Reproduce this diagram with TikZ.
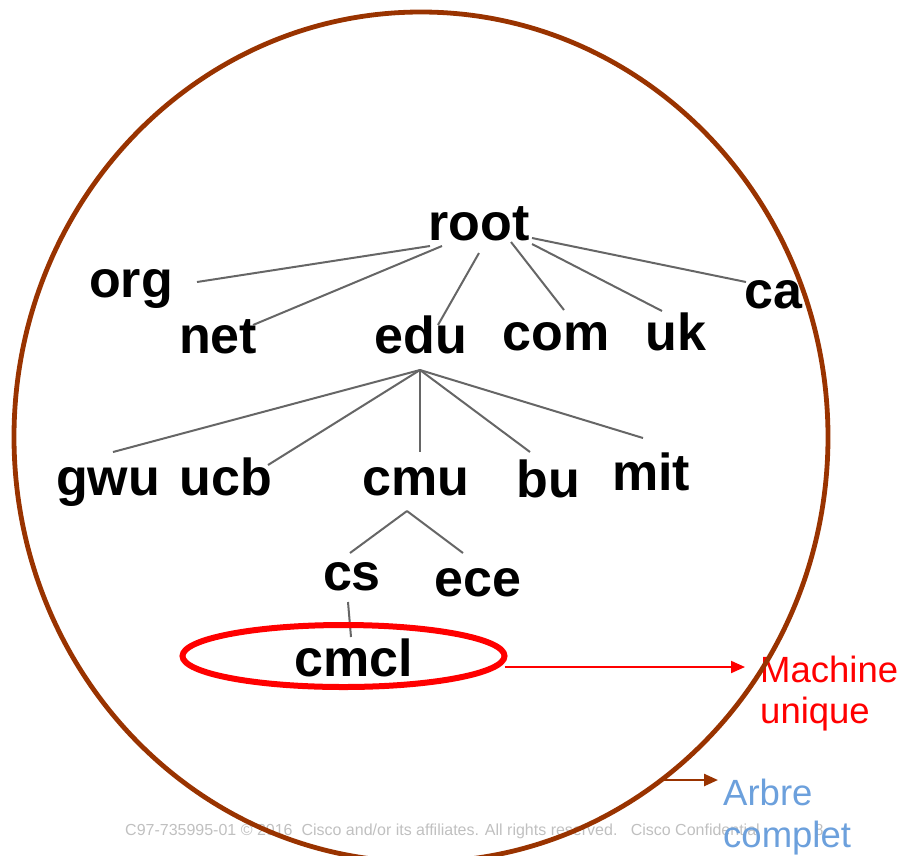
\documentclass[tikz,border=0pt]{standalone}
\usepackage{fontspec}
\setmainfont{Liberation Sans}
\usetikzlibrary{arrows.meta,calc,shapes.geometric}
\definecolor{treebrown}{RGB}{153,51,0}
\definecolor{linkgray}{RGB}{102,102,102}
\definecolor{softblue}{RGB}{108,160,220}
\definecolor{footgray}{RGB}{192,192,192}
\begin{document}
\begin{tikzpicture}[x=1pt,y=-1pt,
  dom/.style={font=\fontsize{52}{60}\selectfont\bfseries, inner sep=0pt, anchor=base},
  link/.style={draw=linkgray, line width=2pt},
  note/.style={font=\fontsize{36.5}{40}\selectfont, inner sep=0pt, anchor=base west},
  foot/.style={font=\fontsize{16}{19}\selectfont, text=footgray, inner sep=0pt, anchor=base west}]
\useasboundingbox (0,0) rectangle (902,855);
% footer
\node[foot] (footer) at (125,835) {C97-735995-01 \textcopyright\ 2016\ \ Cisco and/or its affiliates. All rights reserved.\ \ \ Cisco Confidential};
\node[foot, anchor=base] (pagenum) at (819,835) {8};
% domain names
\node[dom] (root) at (479,240) {root};
\node[dom] (org)  at (131,297) {org};
\node[dom] (net)  at (218,353) {net};
\node[dom] (edu)  at (421,353) {edu};
\node[dom] (com)  at (556,350) {com};
\node[dom] (uk)   at (676,350) {uk};
\node[dom] (ca)   at (773,308) {ca};
\node[dom] (gwu)  at (108,495) {gwu};
\node[dom] (ucb)  at (226,495) {ucb};
\node[dom] (cmu)  at (416,495) {cmu};
\node[dom] (bu)   at (548,497) {bu};
\node[dom] (mit)  at (651,490) {mit};
\node[dom] (cs)   at (352,590) {cs};
\node[dom] (ece)  at (478,596) {ece};
\node[dom] (cmcl) at (354,676) {cmcl};
% links from root
\draw[link] ($(root.base)+(-49,6)$) -- ($(org.base)+(66,-15)$);
\draw[link] ($(root.base)+(-37,6)$) -- ($(net.base)+(35,-28)$);
\draw[link] ($(root.base)+(0,13)$) -- ($(edu.base)+(17,-28)$);
\draw[link] ($(root.base)+(32,2)$) -- ($(com.base)+(8,-40)$);
\draw[link] ($(root.base)+(53,4)$) -- ($(uk.base)+(-14,-39)$);
\draw[link] ($(root.base)+(53,-2)$) -- ($(ca.base)+(-27,-26)$);
% links from edu
\coordinate (eduapex) at ($(edu.base)+(-1,17)$);
\draw[link] (eduapex) -- ($(gwu.base)+(5,-43)$);
\draw[link] (eduapex) -- ($(ucb.base)+(42,-30)$);
\draw[link] (eduapex) -- ($(cmu.base)+(4,-43)$);
\draw[link] (eduapex) -- ($(bu.base)+(-18,-45)$);
\draw[link] (eduapex) -- ($(mit.base)+(-8,-52)$);
% links from cmu
\coordinate (cmuapex) at ($(cmu.base)+(-9,16)$);
\draw[link] (cmuapex) -- ($(cs.base)+(-2,-37)$);
\draw[link] (cmuapex) -- ($(ece.base)+(-15,-43)$);
% cs to cmcl
\draw[link] ($(cs.base)+(-4,12)$) -- ($(cmcl.base)+(-3,-39)$);
% highlight ring
\node[draw=red, line width=6pt, ellipse, minimum width=322pt, minimum height=62pt, inner sep=0pt] (ring) at (343.5,656) {};
\coordinate (mtip) at (745,667);
\draw[red, line width=2pt, -{Triangle[length=14pt,width=12pt]}] ($(ring.east)+(-3,11)$) -- (mtip);
\node[note, text=red] (mach) at (760,682) {Machine};
\node[note, text=red] (uniq) at (760,723) {unique};
% big tree outline
\draw[treebrown, line width=4.8pt] (421,437) ellipse [x radius=407, y radius=425];
\coordinate (atail) at (659,780);
\coordinate (atip) at (718,780);
\draw[treebrown, line width=2.5pt, -{Triangle[length=14pt,width=12pt]}] (atail) -- (atip);
\node[note, text=softblue] (arbre) at (723,805) {Arbre};
\node[note, text=softblue] (complet) at (723,847) {complet};
\end{tikzpicture}
\end{document}
